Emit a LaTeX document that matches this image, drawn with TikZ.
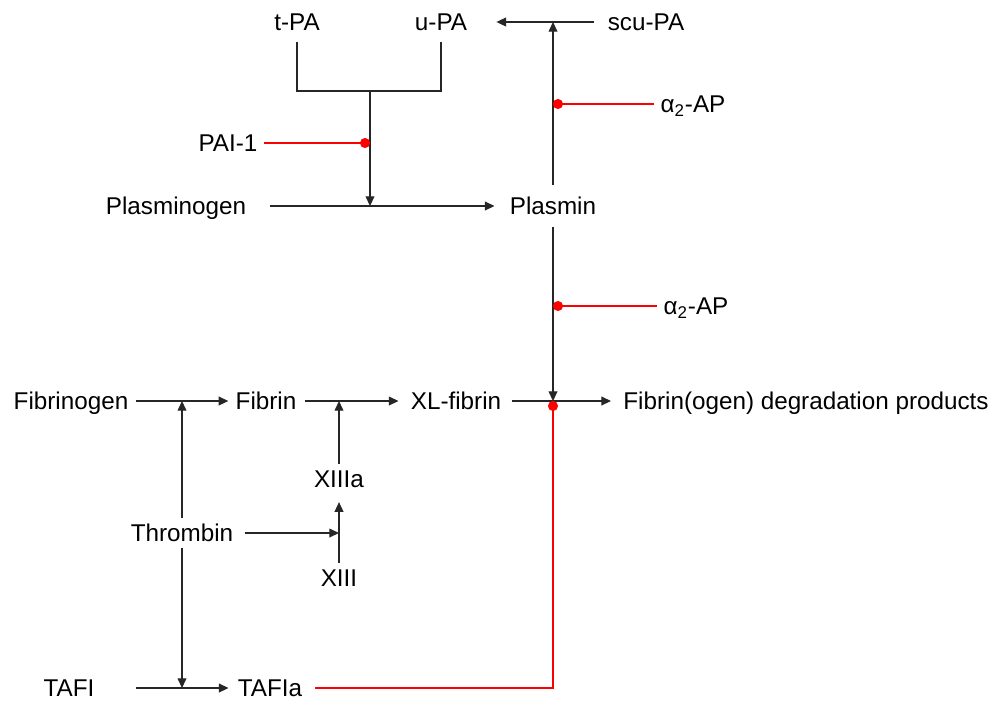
\documentclass[tikz,border=0pt]{standalone}
\usepackage{fontspec}
\setmainfont{Liberation Sans}
\usetikzlibrary{arrows.meta}

\begin{document}
\begin{tikzpicture}[x=0.02cm, y=-0.02cm, every node/.style={font=\fontsize{13.8}{16}\selectfont},
  lbl/.style={inner xsep=0.12cm, inner ysep=0.12cm, text height=0.35cm, text depth=0pt},
  link/.style={line width=0.7pt, black!85},
  arrow/.style={-{Triangle[length=5.5pt, width=5pt]}, line width=0.7pt, black!85},
  inhib/.style={-{Circle[length=0.2cm]}, line width=0.6pt, red}
]
\useasboundingbox (0,0) rectangle (999,704);

% Fibrinolysis
\node[lbl] (tpa) at (297,22) {t-PA};
\node[lbl] (upa) at (441,22) {u-PA};
\node[lbl] (scupa) at (646,22) {scu-PA};
\node[lbl] (pai) at (228,143) {PAI-1};
\node[lbl] (plg) at (176,206) {Plasminogen};
\node[lbl] (plm) at (553,206) {Plasmin};
\node[lbl] (apup) at (693,104) {α\textsubscript{2}-AP};
\node[lbl] (aplow) at (696,306) {α\textsubscript{2}-AP};

% Coagulation
\node[lbl] (fbg) at (71,401) {Fibrinogen};
\node[lbl] (fbn) at (266,401) {Fibrin};
\node[lbl] (xlf) at (456,401) {XL-fibrin};
\node[lbl] (fdp) at (806,401) {Fibrin(ogen) degradation products};
\node[lbl] (thr) at (182,533) {Thrombin};
\node[lbl] (xiiia) at (339,479) {XIIIa};
\node[lbl] (xiii) at (339,578) {XIII};
\node[lbl] (tafi) at (69,688) {TAFI};
\node[lbl] (tafia) at (270,688) {TAFIa};

% Junctions on the arrows
\coordinate (pj) at (370,91);
\coordinate (pgj) at (370,206);
\coordinate (scuj) at (553,22);
\coordinate (fdpj) at (553,401);
\coordinate (fibj) at (182,401);
\coordinate (xlj) at (339,401);
\coordinate (xiiij) at (339,533);
\coordinate (tafij) at (182,688);

% Arrows
\draw[link, shorten <=0.1cm, shorten >=0.1cm] (tpa) |- (pj) -| (upa);
\draw[arrow] (pj) -- (pgj);
\draw[arrow, shorten <=0.36cm, shorten >=0.18cm] (plg) -- (plm);
\draw[arrow, shorten <=0.12cm] (plm) -- (scuj);
\draw[arrow, shorten <=0.14cm, shorten >=0.46cm] (scupa) -- (upa);
\draw[arrow, shorten <=0.12cm] (plm) -- (fdpj);
\draw[arrow, shorten <=0.02cm, shorten >=0.02cm] (fbg) -- (fbn);
\draw[arrow, shorten <=0.04cm, shorten >=0.12cm] (fbn) -- (xlf);
\draw[arrow, shorten <=0.08cm, shorten >=0.12cm] (xlf) -- (fdp);
\draw[arrow] (thr) -- (fibj);
\draw[arrow] (thr) -- (tafij);
\draw[arrow, shorten <=0.1cm] (thr) -- (xiiij);
\draw[arrow, shorten >=0.16cm] (xiii) -- (xiiia);
\draw[arrow] (xiiia) -- (xlj);
\draw[arrow, shorten <=0.7cm, shorten >=0.06cm] (tafi) -- (tafia);

% Inhibitors
\draw[inhib] (pai) -- (pai -| pj);
\draw[inhib] (apup) -- (apup -| scuj);
\draw[inhib] (aplow) -- (aplow -| fdpj);
\draw[inhib, shorten <=0.14cm] (tafia) -| (fdpj);

\end{tikzpicture}
\end{document}
